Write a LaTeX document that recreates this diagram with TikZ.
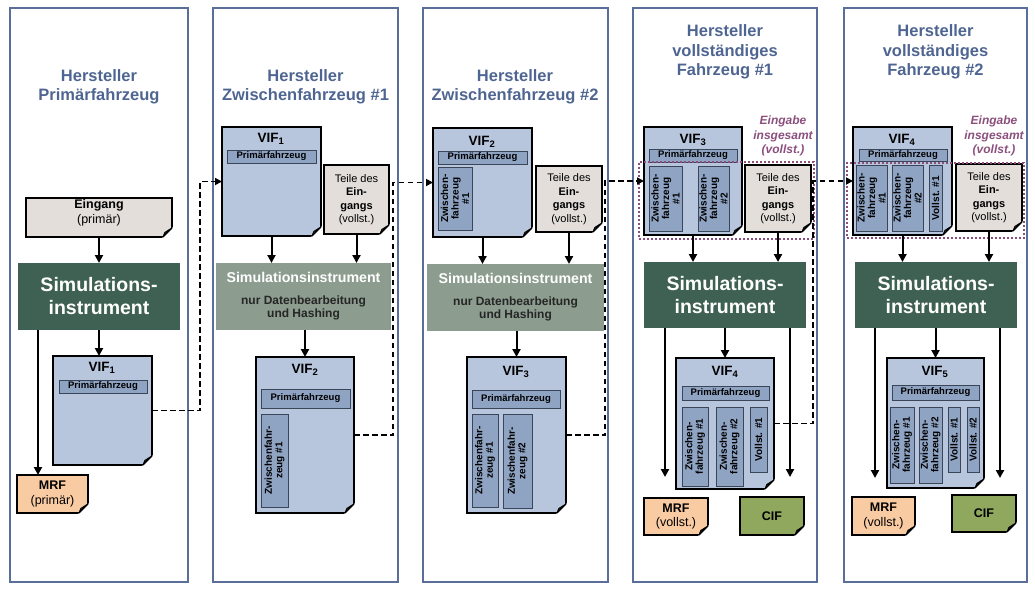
\documentclass[tikz,border=0pt]{standalone}
\usepackage{fontspec}
\setmainfont{Liberation Sans}
\usetikzlibrary{arrows.meta,calc}

\definecolor{frameC}{HTML}{5A6E9A}
\definecolor{titleC}{HTML}{4F6591}
\definecolor{simDark}{HTML}{3F6154}
\definecolor{simLight}{HTML}{8C9C8E}
\definecolor{vifC}{HTML}{B8C6DD}
\definecolor{innerC}{HTML}{8FA3C3}
\definecolor{innerD}{HTML}{3B4558}
\definecolor{inC}{HTML}{E3DEDA}
\definecolor{mrfC}{HTML}{F8CBA2}
\definecolor{cifC}{HTML}{8FA85E}
\definecolor{purpC}{HTML}{8B4F7D}
\definecolor{foldC}{HTML}{D4D4D4}

\newcommand{\mkbox}[7]{%
  \pgfmathsetmacro{\bw}{#5-#3}\pgfmathsetmacro{\bh}{#6-#4}%
  \node[#2, anchor=north west, minimum width=\bw pt, minimum height=\bh pt,
        inner sep=0pt, outer sep=0pt] (#1) at (#3,#4) {#7};}
\newcommand{\fold}[1]{%
  \fill[white] ([xshift=-11pt,yshift=-2pt]#1.south east) -- ([xshift=2pt,yshift=-2pt]#1.south east)
     -- ([xshift=2pt,yshift=11pt]#1.south east) -- cycle;
  \draw[line width=1.2pt, fill=foldC, line join=round] ([xshift=-9pt]#1.south east)
     -- ([yshift=9pt]#1.south east) -- ([xshift=-7pt,yshift=4.5pt]#1.south east) -- cycle;}
\newcommand{\docbox}[7]{\mkbox{#1}{docS,#2}{#3}{#4}{#5}{#6}{#7}\fold{#1}}

\tikzset{
  colS/.style={draw=frameC, line width=1.3pt},
  title/.style={font=\fontsize{16.5}{19.5}\selectfont\bfseries, text=titleC, align=center},
  docS/.style={draw=black, line width=2pt, align=center},
  simbig/.style={fill=simDark, text=white, font=\fontsize{19.5}{23}\selectfont\bfseries, align=center},
  simsmall/.style={fill=simLight},
  simT/.style={text=white, font=\fontsize{14.2}{16}\selectfont\bfseries},
  simT2/.style={text=black!85, font=\fontsize{12}{13.5}\selectfont\bfseries, align=center},
  vifl/.style={font=\fontsize{13.5}{15}\selectfont\bfseries},
  primS/.style={draw=innerD, fill=innerC, line width=0.9pt, font=\fontsize{9.5}{10}\selectfont\bfseries},
  vboxS/.style={draw=innerD, fill=innerC, line width=0.9pt},
  vtxt/.style={rotate=90, font=\fontsize{10}{10.6}\selectfont\bfseries, align=center, inner sep=0pt},
  inTxt/.style={font=\fontsize{12.5}{14.5}\selectfont, align=center},
  teileTxt/.style={font=\fontsize{11}{13.5}\selectfont, align=center},
  purp/.style={text=purpC, font=\fontsize{12}{14.5}\selectfont\bfseries\itshape, align=center},
  arr/.style={line width=2pt, -{Triangle[length=8pt,width=8pt]}},
  dashconn/.style={line width=1.7pt, dash pattern=on 5.5pt off 3.5pt, -{Triangle[length=7pt,width=7pt]}},
  dotbox/.style={draw=purpC, line width=2.4pt, dash pattern=on 2pt off 2pt},
}

\begin{document}
\begin{tikzpicture}[x=1pt,y=-1pt]
\useasboundingbox (0,0) rectangle (1035,590);

% ---------- column frames and titles ----------
\mkbox{col1}{colS}{10}{8}{188}{582}{}
\mkbox{col2}{colS}{213}{8}{398}{582}{}
\mkbox{col3}{colS}{423}{8}{608}{582}{}
\mkbox{col4}{colS}{633}{8}{817}{582}{}
\mkbox{col5}{colS}{844}{8}{1027}{582}{}
\node[title] (t1) at (99,87) {Hersteller\\Primärfahrzeug};
\node[title] (t2) at (305.5,87) {Hersteller\\Zwischenfahrzeug \#1};
\node[title] (t3) at (515,87) {Hersteller\\Zwischenfahrzeug \#2};
\node[title] (t4) at (725,52) {Hersteller\\vollständiges\\Fahrzeug \#1};
\node[title] (t5) at (935.5,52) {Hersteller\\vollständiges\\Fahrzeug \#2};

% ---------- column 1 ----------
\docbox{eing1}{fill=inC}{26}{198}{172}{237}{}
\node[inTxt] (eing1t) at (99,213) {\textbf{Eingang}\\(primär)};
\mkbox{sim1}{simbig}{18}{263}{180}{330}{Simulations-\\instrument}
\docbox{vifA}{fill=vifC}{53}{356}{152}{465}{}
\node[vifl] (vifAl) at (102,368) {VIF\textsubscript{1}};
\mkbox{vifAp}{primS}{59}{380}{147}{393}{Primärfahrzeug}
\docbox{mrf1}{fill=mrfC,inTxt}{17}{475}{88}{513}{\textbf{MRF}\\(primär)}
\draw[arr] (eing1.south) -- (eing1.south |- sim1.north);
\draw[arr] (sim1.south) -- (sim1.south |- vifA.north);
\coordinate (a1) at ($(sim1.south west)+(20,0)$);
\draw[arr] (a1) -- (a1 |- mrf1.north);

% ---------- column 2 ----------
\docbox{vifB}{fill=vifC}{222}{127}{321}{236}{}
\node[vifl] (vifBl) at (271,139) {VIF\textsubscript{1}};
\mkbox{vifBp}{primS}{227}{150}{316}{163}{Primärfahrzeug}
\docbox{teile2}{fill=inC,teileTxt}{324}{165}{389}{234}{Teile des\\\textbf{Ein-}\\\textbf{gangs}\\(vollst.)}
\mkbox{sim2}{simsmall}{216}{263}{391}{330}{}
\node[simT] (sim2a) at (303.5,277) {Simulationsinstrument};
\node[simT2] (sim2b) at (303.5,308) {nur Datenbearbeitung\\und Hashing};
\docbox{vifC2}{fill=vifC}{256}{357}{354}{513}{}
\node[vifl] (vifC2l) at (305,370) {VIF\textsubscript{2}};
\mkbox{vifC2p}{primS}{261}{389}{350}{408}{Primärfahrzeug}
\mkbox{vifC2z}{vboxS}{261}{414}{288}{507}{}
\node[vtxt] (vifC2zt) at (vifC2z.center) {Zwischenfahr-\\zeug \#1};
\draw[arr] (vifB.south) -- (vifB.south |- sim2.north);
\draw[arr] (teile2.south) -- (teile2.south |- sim2.north);
\draw[arr] (vifC2.north |- sim2.south) -- (vifC2.north);

% ---------- column 3 ----------
\docbox{vifD}{fill=vifC}{433}{128}{532}{237}{}
\node[vifl] (vifDl) at (482,142) {VIF\textsubscript{2}};
\mkbox{vifDp}{primS}{438}{151}{527}{164}{Primärfahrzeug}
\mkbox{vifDz}{vboxS}{438}{167}{472}{230}{}
\node[vtxt] (vifDzt) at (vifDz.center) {Zwischen-\\fahrzeug\\\#1};
\docbox{teile3}{fill=inC,teileTxt}{536}{166}{602}{232}{Teile des\\\textbf{Ein-}\\\textbf{gangs}\\(vollst.)}
\mkbox{sim3}{simsmall}{427}{264}{604}{331}{}
\node[simT] (sim3a) at (515.5,278) {Simulationsinstrument};
\node[simT2] (sim3b) at (515.5,309) {nur Datenbearbeitung\\und Hashing};
\docbox{vifE}{fill=vifC}{467}{357}{566}{513}{}
\node[vifl] (vifEl) at (516,372) {VIF\textsubscript{3}};
\mkbox{vifEp}{primS}{472}{390}{560}{408}{Primärfahrzeug}
\mkbox{vifEz1}{vboxS}{472}{414}{498}{507}{}
\node[vtxt] (vifEz1t) at (vifEz1.center) {Zwischenfahr-\\zeug \#1};
\mkbox{vifEz2}{vboxS}{503}{414}{532}{508}{}
\node[vtxt] (vifEz2t) at (vifEz2.center) {Zwischenfahr-\\zeug \#2};
\draw[arr] (vifD.south) -- (vifD.south |- sim3.north);
\draw[arr] (teile3.south) -- (teile3.south |- sim3.north);
\draw[arr] (vifE.north |- sim3.south) -- (vifE.north);

% ---------- column 4 ----------
\node[purp] (eg4) at (783,136) {Eingabe\\insgesamt\\(vollst.)};
\docbox{vifF}{fill=vifC}{644}{127}{742}{235}{}
\node[vifl] (vifFl) at (693,140) {VIF\textsubscript{3}};
\mkbox{vifFp}{primS}{649}{149}{737}{162}{Primärfahrzeug}
\mkbox{vifFz1}{vboxS}{649}{166}{682}{231}{}
\node[vtxt] (vifFz1t) at (vifFz1.center) {Zwischen-\\fahrzeug\\\#1};
\mkbox{vifFz2}{vboxS}{698}{166}{729}{231}{}
\node[vtxt] (vifFz2t) at (vifFz2.center) {Zwischen-\\fahrzeug\\\#2};
\docbox{teile4}{fill=inC,teileTxt}{745}{165}{811}{232}{Teile des\\\textbf{Ein-}\\\textbf{gangs}\\(vollst.)}
\mkbox{dot4}{dotbox}{639}{162}{814}{239}{}
\mkbox{sim4}{simbig}{644}{262}{806}{328}{Simulations-\\instrument}
\docbox{vifG}{fill=vifC}{676}{358}{774}{489}{}
\node[vifl] (vifGl) at (725,372) {VIF\textsubscript{4}};
\mkbox{vifGp}{primS}{682}{386}{769}{400}{Primärfahrzeug}
\mkbox{vifGz1}{vboxS}{682}{407}{708}{486}{}
\node[vtxt] (vifGz1t) at (vifGz1.center) {Zwischen-\\fahrzeug \#1};
\mkbox{vifGz2}{vboxS}{716}{407}{743}{486}{}
\node[vtxt] (vifGz2t) at (vifGz2.center) {Zwischen-\\fahrzeug \#2};
\mkbox{vifGv1}{vboxS}{750}{407}{767}{472}{}
\node[vtxt] (vifGv1t) at (vifGv1.center) {Vollst. \#1};
\docbox{mrf4}{fill=mrfC,inTxt}{644}{498}{708}{535}{\textbf{MRF}\\(vollst.)}
\docbox{cif4}{fill=cifC,inTxt}{740}{497}{804}{535}{\textbf{CIF}}
\draw[arr] (vifF.south) -- (vifF.south |- sim4.north);
\draw[arr] (teile4.south) -- (teile4.south |- sim4.north);
\draw[arr] (vifG.north |- sim4.south) -- (vifG.north);
\coordinate (e4l) at (665,477);
\coordinate (e4r) at (790,477);
\draw[arr] (e4l |- sim4.south) -- (e4l);
\draw[arr] (e4r |- sim4.south) -- (e4r);

% ---------- column 5 ----------
\node[purp] (eg5) at (994,136) {Eingabe\\insgesamt\\(vollst.)};
\docbox{vifH}{fill=vifC}{853}{127}{952}{235}{}
\node[vifl] (vifHl) at (902,140) {VIF\textsubscript{4}};
\mkbox{vifHp}{primS}{859}{149}{947}{161}{Primärfahrzeug}
\mkbox{vifHz1}{vboxS}{856}{165}{887}{231}{}
\node[vtxt] (vifHz1t) at (vifHz1.center) {Zwischen-\\fahrzeug\\\#1};
\mkbox{vifHz2}{vboxS}{892}{165}{923}{231}{}
\node[vtxt] (vifHz2t) at (vifHz2.center) {Zwischen-\\fahrzeug\\\#2};
\mkbox{vifHv1}{vboxS}{929}{165}{942}{231}{}
\node[vtxt] (vifHv1t) at (vifHv1.center) {Vollst. \#1};
\docbox{teile5}{fill=inC,teileTxt}{956}{164}{1022}{231}{Teile des\\\textbf{Ein-}\\\textbf{gangs}\\(vollst.)}
\mkbox{dot5}{dotbox}{847}{163}{1024}{238}{}
\mkbox{sim5}{simbig}{855}{262}{1017}{328}{Simulations-\\instrument}
\docbox{vifI}{fill=vifC}{887}{358}{984}{488}{}
\node[vifl] (vifIl) at (935,372) {VIF\textsubscript{5}};
\mkbox{vifIp}{primS}{892}{385}{979}{400}{Primärfahrzeug}
\mkbox{vifIz1}{vboxS}{890}{407}{914}{483}{}
\node[vtxt] (vifIz1t) at (vifIz1.center) {Zwischen-\\fahrzeug \#1};
\mkbox{vifIz2}{vboxS}{919}{407}{942}{483}{}
\node[vtxt] (vifIz2t) at (vifIz2.center) {Zwischen-\\fahrzeug \#2};
\mkbox{vifIv1}{vboxS}{948}{407}{960}{472}{}
\node[vtxt] (vifIv1t) at (vifIv1.center) {Vollst. \#1};
\mkbox{vifIv2}{vboxS}{967}{407}{979}{472}{}
\node[vtxt] (vifIv2t) at (vifIv2.center) {Vollst. \#2};
\docbox{mrf5}{fill=mrfC,inTxt}{852}{497}{915}{535}{\textbf{MRF}\\(vollst.)}
\docbox{cif5}{fill=cifC,inTxt}{952}{495}{1016}{532}{\textbf{CIF}}
\draw[arr] (vifH.south) -- (vifH.south |- sim5.north);
\draw[arr] (teile5.south) -- (teile5.south |- sim5.north);
\draw[arr] (vifI.north |- sim5.south) -- (vifI.north);
\coordinate (e5l) at (875,478);
\coordinate (e5r) at (1000,478);
\draw[arr] (e5l |- sim5.south) -- (e5l);
\draw[arr] (e5r |- sim5.south) -- (e5r);

% ---------- dashed hand-over connectors ----------
\draw[dashconn] (vifA.east) -| ($(vifB.west)+(-22,0)$) -- (vifB.west);
\draw[dashconn] (vifC2.east) -| ($(vifD.west)+(-40,0)$) -- (vifD.west);
\draw[dashconn] (vifE.east) -| ($(vifF.west)+(-39,0)$) -- (vifF.west);
\draw[dashconn] (vifG.east) -| ($(vifH.west)+(-40,0)$) -- (vifH.west);
\end{tikzpicture}
\end{document}
